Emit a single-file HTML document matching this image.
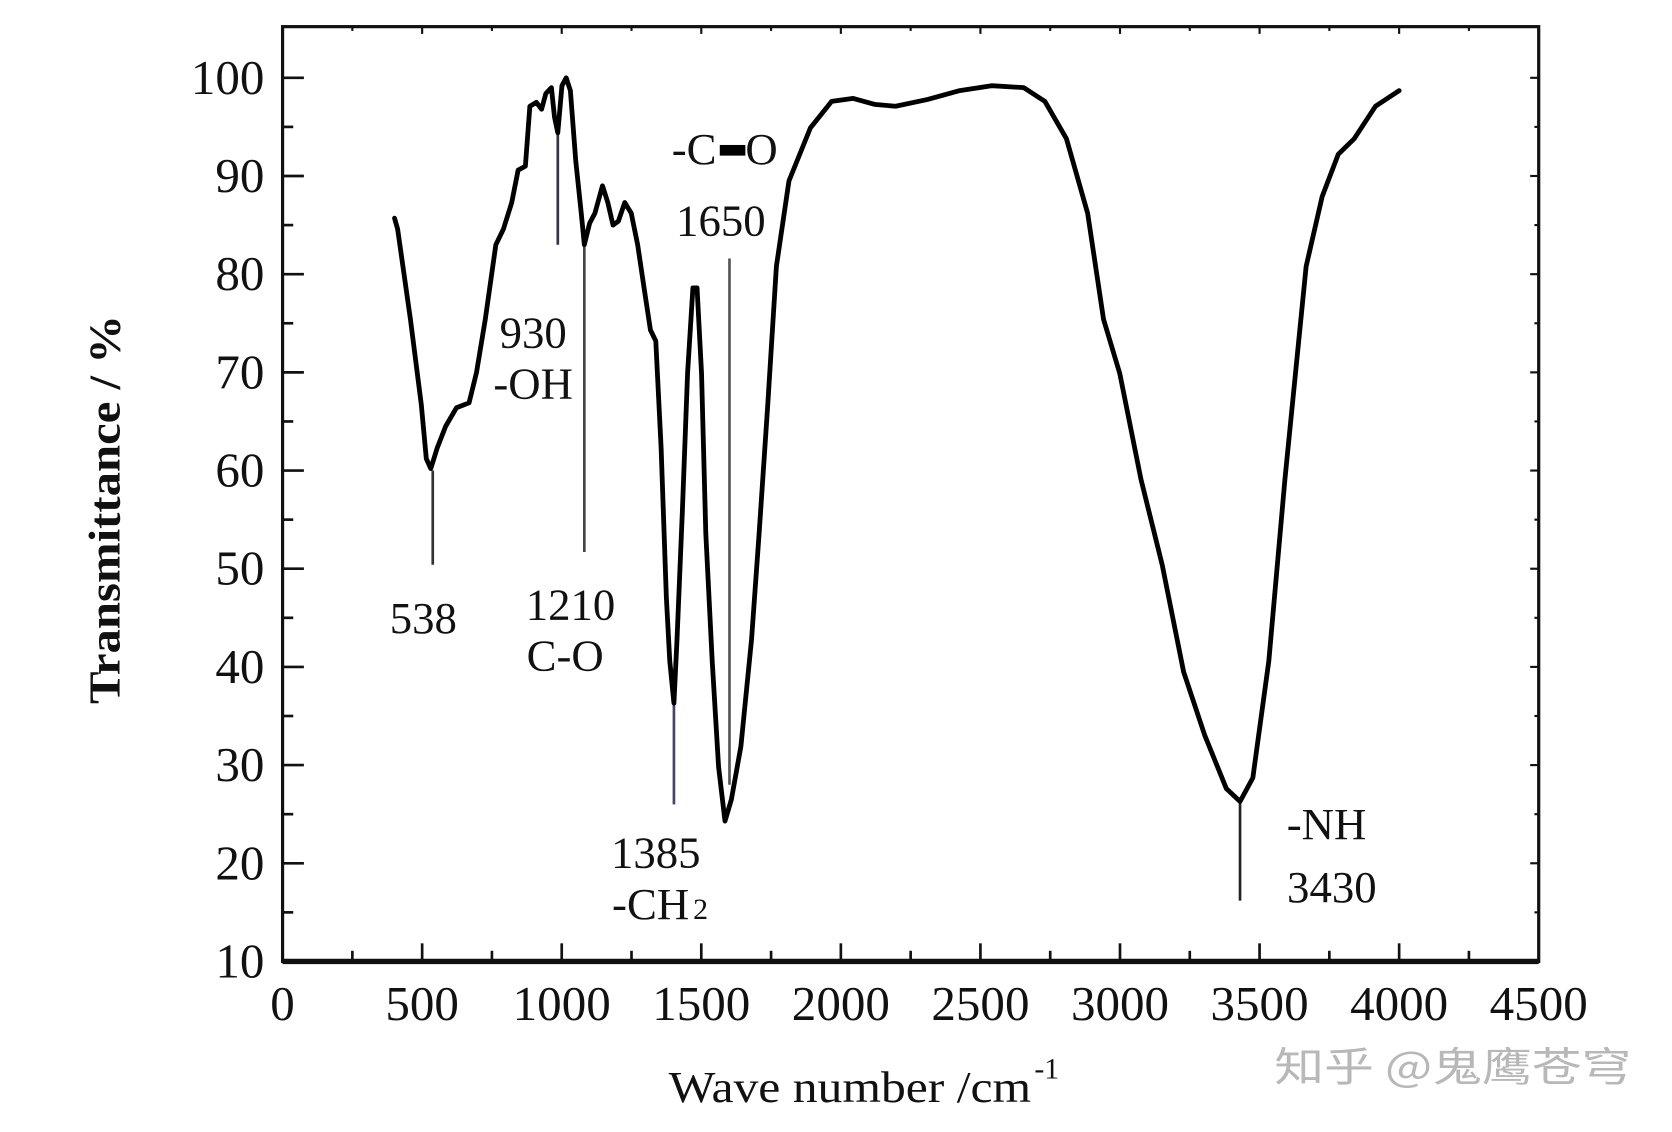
<!DOCTYPE html>
<html><head><meta charset="utf-8"><style>
html,body{margin:0;padding:0;background:#fff;}
svg{display:block;}
text{font-family:"Liberation Serif","Noto Serif CJK SC",serif;fill:#111;}
</style></head><body>
<svg id="chart" width="1672" height="1132" viewBox="0 0 1568 1062" preserveAspectRatio="none" xmlns="http://www.w3.org/2000/svg">
<g id="axes"></g>
<g id="marks"></g>
<text transform="translate(112,478) rotate(-90)" text-anchor="middle" font-size="42" font-weight="600" textLength="365" lengthAdjust="spacingAndGlyphs">Transmittance / %</text>
<text x="627" y="1034" font-size="42" textLength="340" lengthAdjust="spacingAndGlyphs">Wave number /cm</text>
<text x="970" y="1012" font-size="28">-1</text>
<text x="1195" y="1014" font-size="38" style="fill:#b8b8b8;font-family:'Noto Sans CJK SC',sans-serif" textLength="335" lengthAdjust="spacingAndGlyphs">知乎 @鬼鹰苍穹</text>
</svg>
<script>
const wavenumbers=[401,412,458,497,515,531,554,584,623,668,695,726,764,791,821,844,870,886,909,928,943,963,974,986,1001,1016,1031,1050,1070,1081,1100,1119,1146,1165,1184,1203,1226,1249,1272,1295,1318,1337,1356,1375,1387,1402,1413,1432,1451,1470,1485,1501,1516,1539,1562,1585,1608,1642,1680,1707,1738,1769,1814,1891,1967,2044,2120,2196,2311,2426,2540,2655,2731,2808,2884,2941,2999,3075,3151,3228,3304,3381,3430,3476,3533,3591,3667,3724,3782,3839,3915,4000];
const transmittance=[85.7,84.6,75.4,66.7,61.2,60.2,62.3,64.5,66.4,66.9,70,75.4,83,84.6,87.3,90.6,91,97.1,97.5,96.8,98.4,99,96,94.4,99.2,100,98.7,91.6,86.2,83,85.2,86.2,89,87.3,85,85.4,87.3,86.2,83,78.6,74.3,73.2,62.3,47.1,40.6,36.3,42.8,55.8,69.9,78.6,78.6,69.9,53.6,40.6,29.8,24.3,26.5,31.9,42.8,53.6,66.7,80.8,89.5,94.9,97.6,97.9,97.3,97.1,97.8,98.7,99.2,99,97.6,93.8,86.2,75.4,69.9,59.1,50.4,39.5,33,27.6,26.3,28.7,40.6,59.1,80.8,87.9,92.2,93.8,97.1,98.7];
const xTicks=[0,500,1000,1500,2000,2500,3000,3500,4000,4500];
const yTicks=[10,20,30,40,50,60,70,80,90,100];
const markerX=[538,986,1081,1402,1601,3430];
const markerTop=[60,94.4,83,36.3,81.6,26.3];
const markerBottom=[50.4,83,51.7,26,28,16.2];
const markerColor=['#333','#334','#444','#446','#555','#222'];

const L=265,R=1443,T=25,B=902;
const X=v=>L+(v-0)/4500*(R-L);
const Y=v=>B-(v-10)/90*(B-73);
const NS='http://www.w3.org/2000/svg';
function mk(tag,attrs,parent){const e=document.createElementNS(NS,tag);for(const k in attrs)e.setAttribute(k,attrs[k]);parent.appendChild(e);return e;}
const ax=document.getElementById('axes'), mg=document.getElementById('marks');

const frame=mk('rect',{x:L,y:T,width:R-L,height:B-T,fill:'none',stroke:'#111','stroke-width':3},ax);


const base=mk('line',{x1:L,y1:B,x2:R,y2:B,stroke:'#111','stroke-width':5},ax);



for(let v=0;v<=4500;v+=250){
  const major=v%500===0, len=major?17:10;
  if(v>0&&v<4500){
    const t=mk('line',{x1:X(v),y1:B,x2:X(v),y2:B-len,stroke:'#111','stroke-width':2.5},ax);
    
    
    const t2=mk('line',{x1:X(v),y1:T,x2:X(v),y2:T+len*0.4,stroke:'#111','stroke-width':2},ax);
    
    
  }
}
xTicks.forEach(v=>{
  const t=mk('text',{x:X(v),y:957,'text-anchor':'middle','font-size':46},ax);
  t.textContent=v;
  
  
});
for(let v=10;v<=100;v+=5){
  const major=v%10===0,len=major?20:10;
  const t=mk('line',{x1:L,y1:Y(v),x2:L+len,y2:Y(v),stroke:'#111','stroke-width':2.5},ax);
  
  
  const t2=mk('line',{x1:R,y1:Y(v),x2:R-len*0.4,y2:Y(v),stroke:'#111','stroke-width':2},ax);
  
  
}
yTicks.forEach(v=>{
  const t=mk('text',{x:248,y:Y(v)+15,'text-anchor':'end','font-size':46},ax);
  t.textContent=v;
  
  
});

markerX.forEach((w,i)=>{
  const m=mk('line',{x1:X(w),y1:Y(markerTop[i]),x2:X(w),y2:Y(markerBottom[i]),stroke:markerColor[i],'stroke-width':2.5},mg);
  
  
});

let d='';
wavenumbers.forEach((w,i)=>{d+=(i?'L':'M')+X(w).toFixed(1)+' '+Y(transmittance[i]).toFixed(1);});
const p=mk('path',{d:d,fill:'none',stroke:'#000','stroke-width':4.5,'stroke-linejoin':'round','stroke-linecap':'round'},mg);



const labels=[['538',397,594,'label-538'],['930',500,326,'label-930'],['-OH',500,374,'label-oh'],['1210',535,581,'label-1210'],['C-O',530,629,'label-co'],['1650',676,221,'label-1650'],['1385',615,814,'label-1385'],['-NH',1244,787,'label-nh'],['3430',1249,846,'label-3430']];
labels.forEach(a=>{
  const t=mk('text',{x:a[1],y:a[2],'text-anchor':'middle','font-size':42},mg);
  t.textContent=a[0];
  
  
});
const co=mk('text',{x:630,y:154,'font-size':42},mg);
co.textContent='-C';


const bar=mk('rect',{x:675,y:136,width:24,height:10,fill:'#000'},mg);


const o=mk('text',{x:699,y:154,'font-size':42},mg);
o.textContent='O';


const ch=mk('text',{x:574,y:862,'font-size':42},mg);
ch.textContent='-CH';


const sub=mk('text',{x:650,y:862,'font-size':28},mg);
sub.textContent='2';


</script>
</body></html>
